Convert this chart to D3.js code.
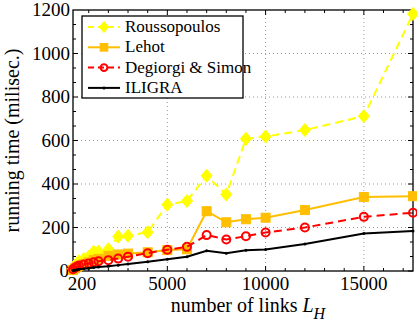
<!DOCTYPE html>
<html>
<head>
<meta charset="utf-8">
<script src="https://cdn.jsdelivr.net/npm/d3@7"></script>
<style>
  body { margin: 0; background: #fff; }
  svg { display: block; font-family: "Liberation Serif", "DejaVu Serif", serif; }
</style>
</head>
<body>
<div class="chart"></div>
<script>
const width = 417
const height = 329
const margin = { top: 10, right: 4, bottom: 58, left: 73 }

// number of links L_H
const links = [200, 300, 400, 500, 750, 1000, 1250, 1500, 2000, 2500, 3000, 4000, 5000, 6000, 7000, 8000, 9000, 10000, 12000, 15000, 17500]
// running times in ms
const roussopoulos = [10, 25, 35, 45, 55, 65, 88, 90, 100, 158, 162, 178, 305, 322, 438, 352, 608, 618, 648, 712, 1182]
const lehot = [5, 12, 18, 24, 32, 40, 50, 56, 70, 76, 80, 86, 96, 100, 275, 224, 238, 245, 280, 340, 344]
const degiorgi = [8, 15, 20, 25, 30, 35, 40, 45, 50, 57, 66, 82, 98, 111, 165, 145, 160, 177, 200, 249, 268]
const iligra = [2, 4, 6, 8, 10, 13, 16, 18, 22, 27, 32, 43, 54, 66, 93, 82, 95, 99, 124, 172, 184]

const xTicks = [200, 5000, 10000, 15000]
const yTicks = [0, 200, 400, 600, 800, 1000, 1200]

const series = [
  { name: 'Roussopoulos', values: roussopoulos, color: '#ffff00', dash: '8,5', marker: 'diamond' },
  { name: 'Lehot', values: lehot, color: '#ffbf00', dash: null, marker: 'square' },
  { name: 'Degiorgi & Simon', values: degiorgi, color: '#ff0000', dash: '8,5', marker: 'circle' },
  { name: 'ILIGRA', values: iligra, color: '#000000', dash: null, marker: 'dot' }
]

const svg = d3.select('.chart').append('svg')
  .attr('width', width)
  .attr('height', height)

const x = d3.scaleLinear().domain([200, 17500]).range([margin.left, width - margin.right])
const y = d3.scaleLinear().domain([0, 1200]).range([height - margin.bottom, margin.top])

const x0 = x.range()[0], x1 = x.range()[1]
const y0 = y.range()[0], y1 = y.range()[1]

// dotted grid
svg.append('g')
  .selectAll('line')
  .data(xTicks.slice(1))
  .join('line')
  .attr('x1', d => x(d)).attr('x2', d => x(d))
  .attr('y1', y1).attr('y2', y0)
  .attr('stroke', '#999').attr('stroke-width', 1).attr('stroke-dasharray', '1,3')
svg.append('g')
  .selectAll('line')
  .data(yTicks.slice(1, -1))
  .join('line')
  .attr('x1', x0).attr('x2', x1)
  .attr('y1', d => y(d)).attr('y2', d => y(d))
  .attr('stroke', '#999').attr('stroke-width', 1).attr('stroke-dasharray', '1,3')

// ticks inside, mirrored on all sides
const minorX = d3.range(1000, 17500, 1000)
const minorY = d3.range(0, 1200, 200 / 3)
const tk = svg.append('g').attr('stroke', '#000').attr('stroke-width', 1)
minorX.forEach(v => {
  const len = v % 5000 === 0 ? 5 : 3
  tk.append('line').attr('x1', x(v)).attr('x2', x(v)).attr('y1', y0).attr('y2', y0 - len)
  tk.append('line').attr('x1', x(v)).attr('x2', x(v)).attr('y1', y1).attr('y2', y1 + len)
})
minorY.forEach(v => {
  const len = Math.abs(v % 200) < 1e-6 ? 5 : 3
  tk.append('line').attr('y1', y(v)).attr('y2', y(v)).attr('x1', x0).attr('x2', x0 + len)
  tk.append('line').attr('y1', y(v)).attr('y2', y(v)).attr('x1', x1).attr('x2', x1 - len)
})

// frame
svg.append('rect')
  .attr('x', x0).attr('y', y1)
  .attr('width', x1 - x0).attr('height', y0 - y1)
  .attr('fill', 'none').attr('stroke', '#000').attr('stroke-width', 1.3)

// tick labels
svg.append('g')
  .selectAll('text')
  .data(xTicks)
  .join('text')
  .attr('x', d => x(d) + (d === 200 ? 9 : 0))
  .attr('y', y0 + 19)
  .attr('text-anchor', 'middle')
  .attr('font-size', 19)
  .text(d => d)
svg.append('g')
  .selectAll('text')
  .data(yTicks)
  .join('text')
  .attr('x', d => d === 0 ? x0 - 4 : x0 - 3)
  .attr('y', d => y(d) + 6)
  .attr('text-anchor', 'end')
  .attr('font-size', 19)
  .text(d => d)

// axis titles
const xl = svg.append('text')
  .attr('x', 248)
  .attr('y', 312)
  .attr('text-anchor', 'middle')
  .attr('font-size', 20)
xl.append('tspan').text('number of links ')
xl.append('tspan').attr('font-style', 'italic').text('L')
xl.append('tspan').attr('font-style', 'italic').attr('font-size', 16).attr('dy', 7).text('H')

svg.append('text')
  .attr('transform', `translate(19,${(y0 + y1) / 2}) rotate(-90)`)
  .attr('text-anchor', 'middle')
  .attr('font-size', 20)
  .text('running time (milisec.)')

// markers
function drawMarker(g, type, color, cx, cy, k = 1) {
  if (type === 'diamond') {
    const w = 5.5 * k, h = 6.5 * k
    g.append('path')
      .attr('d', `M${cx},${cy - h}L${cx + w},${cy}L${cx},${cy + h}L${cx - w},${cy}Z`)
      .attr('fill', color).attr('stroke', color).attr('stroke-width', 1)
  } else if (type === 'square') {
    g.append('rect')
      .attr('x', cx - 4.5 * k).attr('y', cy - 4.5 * k).attr('width', 9 * k).attr('height', 9 * k)
      .attr('fill', color).attr('stroke', color)
  } else if (type === 'circle') {
    g.append('circle')
      .attr('cx', cx).attr('cy', cy).attr('r', 4 * k)
      .attr('fill', 'none').attr('stroke', color).attr('stroke-width', 2)
  } else {
    g.append('circle')
      .attr('cx', cx).attr('cy', cy).attr('r', 1.5)
      .attr('fill', color)
  }
}

const line = d3.line().x(d => x(d[0])).y(d => y(d[1]))
const plot = svg.append('g')
series.forEach(s => {
  const pts = links.map((l, i) => [l, s.values[i]])
  plot.append('path')
    .datum(pts)
    .attr('d', line)
    .attr('fill', 'none')
    .attr('stroke', s.color)
    .attr('stroke-width', 2)
    .attr('stroke-dasharray', s.dash)
  const mg = plot.append('g')
  pts.forEach(p => drawMarker(mg, s.marker, s.color, x(p[0]), y(p[1])))
})

// legend
const lg = svg.append('g')
lg.append('rect')
  .attr('x', 82).attr('y', 16).attr('width', 161).attr('height', 82)
  .attr('fill', '#fff').attr('stroke', '#000').attr('stroke-width', 1.3)
series.forEach((s, i) => {
  const ly = 27 + i * 20.3
  lg.append('line')
    .attr('x1', 88).attr('x2', 120).attr('y1', ly).attr('y2', ly)
    .attr('stroke', s.color).attr('stroke-width', 2)
    .attr('stroke-dasharray', s.dash ? '6,4' : null)
  drawMarker(lg, s.marker, s.color, 104, ly, 0.85)
  lg.append('text')
    .attr('x', 125).attr('y', ly + 5)
    .attr('font-size', 17)
    .text(s.name)
})
</script>
</body>
</html>
